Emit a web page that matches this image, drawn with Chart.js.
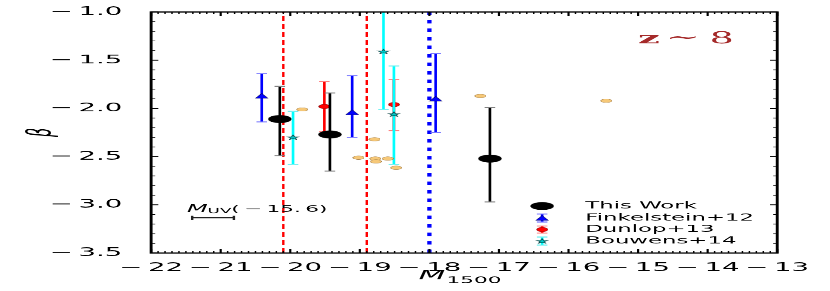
<!DOCTYPE html>
<html><head><meta charset="utf-8">
<script src="https://cdn.jsdelivr.net/npm/chart.js@4.4.0/dist/chart.umd.min.js"></script>
<style>
html,body{margin:0;padding:0;background:#fff;overflow:hidden;}
#wrap{width:346px;height:291px;transform:scaleX(2.398844);transform-origin:0 0;}
canvas{display:block;}
</style></head><body>
<div id="wrap"><canvas id="c" width="346" height="291"></canvas></div>
<script>
// ---- data (M1500 vs beta) ----
const thisWorkM = [-20.15, -19.43, -17.13];
const thisWorkBeta = [-2.11, -2.27, -2.52];
const thisWorkHi = [-1.77, -1.84, -1.99];
const thisWorkLo = [-2.49, -2.65, -2.97];

const finkM = [-20.41, -19.11, -17.91];
const finkBeta = [-1.87, -2.04, -1.90];
const finkHi = [-1.64, -1.66, -1.43];
const finkLo = [-2.14, -2.30, -2.25];

const dunlopM = [-19.51, -18.51];
const dunlopBeta = [-1.98, -1.96];
const dunlopHi = [-1.72, -1.70];
const dunlopLo = [-2.24, -2.23];

const bouwensM = [-19.96, -18.66, -18.51];
const bouwensBeta = [-2.30, -1.41, -2.06];
const bouwensHi = [-2.03, -0.81, -1.56];
const bouwensLo = [-2.58, -2.01, -2.58];

const otherM = [-19.83, -18.79, -19.02, -18.78, -18.77, -18.60, -18.48, -17.27, -15.46];
const otherBeta = [-2.01, -2.32, -2.51, -2.52, -2.55, -2.52, -2.615, -1.87, -1.92];

const redLimitsM = [-20.10, -18.90];
const blueLimitM = [-18.00];

const muvBarX = [-21.11];
const muvBarY = [-3.134];
const muvBarHalf = [0.30];

const xTickValues = [-22, -21, -20, -19, -18, -17, -16, -15, -14, -13];
const xTickLabels = ['\u2212\u200922', '\u2212\u200921', '\u2212\u200920', '\u2212\u200919', '\u2212\u200918', '\u2212\u200917', '\u2212\u200916', '\u2212\u200915', '\u2212\u200914', '\u2212\u200913'];
const yTickValues = [-3.5, -3.0, -2.5, -2.0, -1.5, -1.0];
const yTickLabels = ['\u2212\u20093.5', '\u2212\u20093.0', '\u2212\u20092.5', '\u2212\u20092.0', '\u2212\u20091.5', '\u2212\u20091.0'];

const seriesLabels = ['This Work', 'Finkelstein+12', 'Dunlop+13', 'Bouwens+14'];

// ---- marker images (hi-res bitmaps, drawn at their nominal size) ----
const RES = 6;
function makeMarker(w, h, draw) {
  const c = document.createElement('canvas');
  c.width = w * RES; c.height = h * RES;
  const g = c.getContext('2d');
  g.scale(RES, RES);
  draw(g, w, h);
  const img = new Image(w, h);
  img.src = c.toDataURL();
  return img;
}
const mkBlack = makeMarker(10, 8.4, (g, w, h) => { g.fillStyle = '#000'; g.beginPath(); g.ellipse(w/2, h/2, 4.9, 4.1, 0, 0, 2*Math.PI); g.fill(); });
const mkOrange = makeMarker(5.8, 4.8, (g, w, h) => { g.fillStyle = '#f6c878'; g.strokeStyle = '#a8824a'; g.lineWidth = 0.35; g.beginPath(); g.ellipse(w/2, h/2, 2.6, 2.1, 0, 0, 2*Math.PI); g.fill(); g.stroke(); });
const mkRed = makeMarker(5.4, 5, (g, w, h) => { g.fillStyle = '#ff0000'; g.strokeStyle = '#900000'; g.lineWidth = 0.35; g.beginPath(); g.ellipse(w/2, h/2, 2.4, 2.2, 0, 0, 2*Math.PI); g.fill(); g.stroke(); });
const mkTri = makeMarker(6, 6, (g, w, h) => { g.fillStyle = '#0000ff'; g.strokeStyle = '#000060'; g.lineWidth = 0.3; g.beginPath(); g.moveTo(3, 0.5); g.lineTo(5.6, 5.4); g.lineTo(0.4, 5.4); g.closePath(); g.fill(); g.stroke(); });
const mkStar = makeMarker(6, 6, (g, w, h) => {
  g.fillStyle = '#00c8c8'; g.strokeStyle = '#003c3c'; g.lineWidth = 0.4; g.beginPath();
  for (let k = 0; k < 10; k++) { const r = k % 2 ? 1.0 : 2.5; const a = -Math.PI/2 + k*Math.PI/5; const px = 3 + r*Math.cos(a), py = 3.2 + r*Math.sin(a); k ? g.lineTo(px, py) : g.moveTo(px, py); }
  g.closePath(); g.fill(); g.stroke();
});
const markerImgs = [mkBlack, mkOrange, mkRed, mkTri, mkStar];

const pts = (xs, ys) => xs.map((v, i) => ({x: v, y: ys[i]}));
const vline = v => [{x: v, y: -3.5}, {x: v, y: -1.0}];

// ---- plugins ----
const errorBars = {
  id: 'errorBars',
  beforeDatasetDraw(chart, args) {
    const ds = chart.data.datasets[args.index];
    if (!ds.errHi) return;
    const {ctx, chartArea: a, scales: {x, y}} = chart;
    ctx.save();
    ctx.beginPath(); ctx.rect(a.left, a.top, a.right - a.left, a.bottom - a.top); ctx.clip();
    ds.data.forEach((p, j) => {
      const px = x.getPixelForValue(p.x);
      const yh = y.getPixelForValue(ds.errHi[j]);
      const yl = y.getPixelForValue(ds.errLo[j]);
      ctx.strokeStyle = ds.errColor; ctx.lineWidth = 1.1;
      ctx.beginPath(); ctx.moveTo(px, yh); ctx.lineTo(px, yl); ctx.stroke();
      ctx.strokeStyle = ds.capColor; ctx.lineWidth = 1;
      ctx.beginPath();
      ctx.moveTo(px - 2.2, yh); ctx.lineTo(px + 2.2, yh);
      ctx.moveTo(px - 2.2, yl); ctx.lineTo(px + 2.2, yl);
      ctx.stroke();
    });
    ctx.restore();
  }
};

const frameTicks = {
  id: 'frameTicks',
  afterDatasetsDraw(chart) {
    const {ctx, chartArea: a, scales: {x, y}} = chart;
    ctx.save();
    ctx.strokeStyle = '#000';
    ctx.lineWidth = 0.6;
    ctx.beginPath();
    for (let i = 0; i < xTickValues.length - 1; i++) {
      const v0 = xTickValues[i], st = (xTickValues[i+1] - v0) / 10;
      for (let k = 1; k < 10; k++) {
        const px = x.getPixelForValue(v0 + k*st);
        ctx.moveTo(px, a.bottom); ctx.lineTo(px, a.bottom - 2);
        ctx.moveTo(px, a.top); ctx.lineTo(px, a.top + 2);
      }
    }
    for (let i = 0; i < yTickValues.length - 1; i++) {
      const v0 = yTickValues[i], st = (yTickValues[i+1] - v0) / 5;
      for (let k = 1; k < 5; k++) {
        const py = y.getPixelForValue(v0 + k*st);
        ctx.moveTo(a.left, py); ctx.lineTo(a.left + 1.7, py);
        ctx.moveTo(a.right, py); ctx.lineTo(a.right - 1.7, py);
      }
    }
    ctx.stroke();
    ctx.lineWidth = 0.9;
    ctx.beginPath();
    xTickValues.forEach(v => {
      const px = x.getPixelForValue(v);
      ctx.moveTo(px, a.bottom); ctx.lineTo(px, a.bottom - 4);
      ctx.moveTo(px, a.top); ctx.lineTo(px, a.top + 4);
    });
    yTickValues.forEach(v => {
      const py = y.getPixelForValue(v);
      ctx.moveTo(a.left, py); ctx.lineTo(a.left + 3, py);
      ctx.moveTo(a.right, py); ctx.lineTo(a.right - 3, py);
    });
    ctx.stroke();
    ctx.lineWidth = 1.2;
    ctx.strokeRect(a.left, a.top, a.right - a.left, a.bottom - a.top);
    ctx.restore();
  }
};

const annotations = {
  id: 'annotations',
  afterDatasetsDraw(chart) {
    const {ctx, chartArea: a, scales: {x, y}} = chart;
    ctx.save();
    ctx.textAlign = 'left';
    ctx.fillStyle = '#000';
    // y axis title (rotated)
    ctx.save();
    ctx.translate(17.5, (a.top + a.bottom) / 2);
    ctx.rotate(-Math.PI / 2);
    ctx.font = 'italic 14px "DejaVu Sans"';
    ctx.textAlign = 'center'; ctx.textBaseline = 'middle';
    ctx.fillText('\u03B2', 0, 0);
    ctx.restore();
    // x axis title M_1500
    {
      ctx.textBaseline = 'alphabetic';
      ctx.font = 'italic 13px "DejaVu Sans"';
      const wM = ctx.measureText('M').width;
      ctx.font = '9px "DejaVu Sans"';
      const wS = ctx.measureText('1500').width;
      const cx = (a.left + a.right) / 2 - 2;
      const x0 = cx - (wM + wS) / 2;
      ctx.font = 'italic 13px "DejaVu Sans"';
      ctx.fillText('M', x0, 279.5);
      ctx.font = '9px "DejaVu Sans"';
      ctx.fillText('1500', x0 + wM + 0.5, 283);
    }
    // M_UV typical uncertainty bar
    muvBarX.forEach((cx, i) => {
      const x0 = x.getPixelForValue(cx - muvBarHalf[i]);
      const x1 = x.getPixelForValue(cx + muvBarHalf[i]);
      const py = y.getPixelForValue(muvBarY[i]);
      ctx.strokeStyle = '#222'; ctx.lineWidth = 1;
      ctx.beginPath();
      ctx.moveTo(x0, py); ctx.lineTo(x1, py);
      ctx.moveTo(x0, py - 2); ctx.lineTo(x0, py + 2);
      ctx.moveTo(x1, py - 2); ctx.lineTo(x1, py + 2);
      ctx.stroke();
      const tx = x0 - 2.2, ty = py - 6;
      ctx.fillStyle = '#000'; ctx.textBaseline = 'alphabetic';
      ctx.font = 'italic 10px "DejaVu Sans"';
      ctx.fillText('M', tx, ty);
      let w = ctx.measureText('M').width;
      ctx.font = '7px "DejaVu Sans"';
      ctx.fillText('UV', tx + w, ty + 1.5);
      w += ctx.measureText('UV').width;
      ctx.font = '9px "DejaVu Sans"';
      ctx.fillText('(\u2009\u2212\u200915.\u20096)', tx + w, ty);
    });
    // z ~ 8
    const zx = x.getPixelForValue(-15.0), zy = y.getPixelForValue(-1.325);
    ctx.fillStyle = '#a52a2a'; ctx.textBaseline = 'alphabetic';
    ctx.font = 'bold 16px "DejaVu Serif"';
    ctx.fillText('z', zx, zy);
    ctx.font = '17px "DejaVu Serif"';
    ctx.fillText('\u223C', zx + 11.5, zy - 0.5);
    ctx.font = '16px "DejaVu Serif"';
    ctx.fillText('8', zx + 29.8, zy);
    ctx.restore();
  }
};

const customLegend = {
  id: 'customLegend',
  afterDraw(chart) {
    const {ctx, chartArea: a} = chart;
    const mx = a.left + 163, tx = a.left + 181;
    const ys = [a.top + 194, a.top + 206, a.top + 217.5, a.top + 229];
    const marks = [mkBlack, mkTri, mkRed, mkStar];
    const cols = [null, ['#0000ff', '#7777ff'], ['#ff0000', '#ff8080'], ['#00ffff', '#70f0f0']];
    const errs = [0, 4, 3.5, 4];
    ctx.save();
    ys.forEach((yy, i) => {
      if (cols[i]) {
        ctx.strokeStyle = cols[i][0]; ctx.lineWidth = 1.1;
        ctx.beginPath(); ctx.moveTo(mx, yy - errs[i]); ctx.lineTo(mx, yy + errs[i]); ctx.stroke();
        ctx.strokeStyle = cols[i][1]; ctx.lineWidth = 1;
        ctx.beginPath();
        ctx.moveTo(mx - 2.2, yy - errs[i]); ctx.lineTo(mx + 2.2, yy - errs[i]);
        ctx.moveTo(mx - 2.2, yy + errs[i]); ctx.lineTo(mx + 2.2, yy + errs[i]);
        ctx.stroke();
      }
      const m = marks[i];
      ctx.drawImage(m, mx - m.width/2, yy - m.height/2, m.width, m.height);
      ctx.fillStyle = '#000'; ctx.font = '9.5px "DejaVu Sans"';
      ctx.textBaseline = 'middle'; ctx.textAlign = 'left';
      ctx.fillText(chart.data.datasets[i].label, tx, yy);
    });
    ctx.restore();
  }
};

Chart.defaults.font.family = '"DejaVu Sans"';
Chart.defaults.color = '#000';

function build() {
  new Chart(document.getElementById('c'), {
    type: 'scatter',
    data: {
      datasets: [
        { label: seriesLabels[0], data: pts(thisWorkM, thisWorkBeta), errHi: thisWorkHi, errLo: thisWorkLo,
          errColor: '#000', capColor: '#808080', pointStyle: mkBlack, pointRadius: 5, order: 2 },
        { label: seriesLabels[1], data: pts(finkM, finkBeta), errHi: finkHi, errLo: finkLo,
          errColor: '#0000ff', capColor: '#7777ff', pointStyle: mkTri, pointRadius: 4, order: 3 },
        { label: seriesLabels[2], data: pts(dunlopM, dunlopBeta), errHi: dunlopHi, errLo: dunlopLo,
          errColor: '#ff0000', capColor: '#ff8080', pointStyle: mkRed, pointRadius: 4, order: 4 },
        { label: seriesLabels[3], data: pts(bouwensM, bouwensBeta), errHi: bouwensHi, errLo: bouwensLo,
          errColor: '#00ffff', capColor: '#70f0f0', pointStyle: mkStar, pointRadius: 4, order: 1 },
        { label: 'other', data: pts(otherM, otherBeta), pointStyle: mkOrange, pointRadius: 3, order: 0 },
        ...redLimitsM.map(v => ({ label: 'limit', data: vline(v), showLine: true, borderColor: '#ff0000',
          borderWidth: 1, borderDash: [5, 3], pointRadius: 0, order: 10 })),
        ...blueLimitM.map(v => ({ label: 'limit', data: vline(v), showLine: true, borderColor: '#0000ff',
          borderWidth: 1.8, borderDash: [3.5, 5], pointRadius: 0, order: 10 }))
      ]
    },
    options: {
      responsive: false,
      devicePixelRatio: 2.39886,
      animation: false,
      events: [],
      layout: { padding: { top: 12, right: 22, left: 0, bottom: 0 } },
      plugins: { legend: { display: false }, tooltip: { enabled: false } },
      scales: {
        x: {
          type: 'linear', min: -22, max: -13,
          afterFit(s) { s.height = 38; },
          afterBuildTicks(s) { s.ticks = xTickValues.map(v => ({value: v})); },
          grid: { display: false }, border: { display: false },
          ticks: { font: { size: 11.5 }, padding: 0, maxRotation: 0, autoSkip: false, callback: (v, i) => xTickLabels[i] }
        },
        y: {
          type: 'linear', min: -3.5, max: -1.0,
          afterFit(s) { s.width = 63; },
          afterBuildTicks(s) { s.ticks = yTickValues.map(v => ({value: v})); },
          grid: { display: false }, border: { display: false },
          ticks: { font: { size: 11.5 }, padding: 4, autoSkip: false, callback: (v, i) => yTickLabels[i] }
        }
      }
    },
    plugins: [errorBars, frameTicks, annotations, customLegend]
  });
}
Promise.all(markerImgs.map(im => im.decode().catch(() => null))).then(build);
</script>
</body></html>
